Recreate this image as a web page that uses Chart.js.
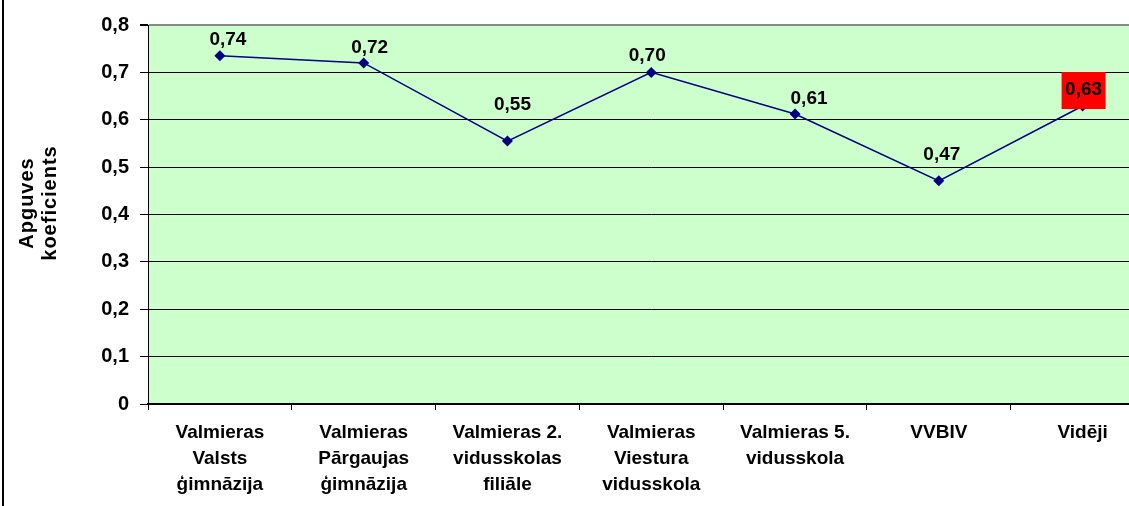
<!DOCTYPE html>
<html>
    <head>
        <meta charset="utf-8">
        <script src="https://cdn.jsdelivr.net/npm/chart.js@4.4.0/dist/chart.umd.min.js"></script>
        <style>
            body { margin: 0; overflow: hidden; background: #fff; }
            #wrap { width: 1160px; height: 506px; }
        </style>
    </head>
    <body>
        <div id="wrap">
            <canvas id="myChart" width="1160" height="506"></canvas>
        </div>

        <script>
            // DATA
            const schools = [
                ['Valmieras', 'Valsts', 'ģimnāzija'],
                ['Valmieras', 'Pārgaujas', 'ģimnāzija'],
                ['Valmieras 2.', 'vidusskolas', 'filiāle'],
                ['Valmieras', 'Viestura', 'vidusskola'],
                ['Valmieras 5.', 'vidusskola'],
                ['VVBIV'],
                ['Vidēji']
            ];
            const coefficients = [0.735, 0.72, 0.555, 0.70, 0.612, 0.471, 0.629];
            const valueLabels = ['0,74', '0,72', '0,55', '0,70', '0,61', '0,47', '0,63'];
            const yTitle = ['Apguves', 'koeficients'];

            // label placement (moved by hand in the original)
            const labelDx = [8, 6, 5, -4, 14, 3, 1];
            const labelDy = [-16, -15, -36, -17, -15, -26, -16];
            const highlighted = 6;

            const FONT = '"Liberation Sans", Arial, sans-serif';

            const background = {
                id: 'background',
                beforeDraw(chart) {
                    const {ctx, chartArea: a} = chart;
                    ctx.save();
                    ctx.fillStyle = '#ccffcc';
                    ctx.fillRect(a.left, a.top, a.right - a.left, a.bottom - a.top);
                    // outer frame
                    ctx.fillStyle = '#000';
                    ctx.fillRect(2, 0, 2, chart.height);
                    ctx.restore();
                }
            };

            const labels = {
                id: 'labels',
                afterDatasetsDraw(chart) {
                    const ctx = chart.ctx;
                    const pts = chart.getDatasetMeta(0).data;
                    ctx.save();
                    ctx.font = 'bold 19px ' + FONT;
                    ctx.textAlign = 'center';
                    ctx.textBaseline = 'middle';
                    pts.forEach((p, i) => {
                        const x = p.x + labelDx[i], y = p.y + labelDy[i];
                        if (i === highlighted) {
                            ctx.fillStyle = '#ff0000';
                            ctx.fillRect(x - 22, y - 18, 44, 37);
                        }
                        ctx.fillStyle = '#000';
                        ctx.fillText(valueLabels[i], x, y);
                    });
                    // axis title
                    ctx.font = 'bold 20px ' + FONT;
                    ctx.letterSpacing = '1px';
                    ctx.translate(38, 203);
                    ctx.rotate(-Math.PI / 2);
                    ctx.fillText(yTitle[0], 0, -11);
                    ctx.fillText(yTitle[1], 0, 12);
                    ctx.restore();
                }
            };

            const config = {
                type: 'line',
                data: {
                    labels: schools,
                    datasets: [{
                        data: coefficients,
                        borderColor: '#000080',
                        backgroundColor: '#000080',
                        borderWidth: 1.5,
                        pointStyle: 'rectRot',
                        pointRadius: 5.5,
                        pointBorderWidth: 0,
                        tension: 0
                    }]
                },
                options: {
                    responsive: false,
                    animation: false,
                    layout: { padding: { top: 25, right: 4, left: 0, bottom: 0 } },
                    plugins: { legend: { display: false }, tooltip: { enabled: false } },
                    scales: {
                        x: {
                            offset: true,
                            afterFit: s => { s.height = 102; },
                            grid: { drawOnChartArea: false, color: '#000', tickLength: 6, offset: true },
                            border: { color: '#000', width: 2 },
                            ticks: {
                                autoSkip: false,
                                maxRotation: 0,
                                padding: 10,
                                color: '#000',
                                font: { family: FONT, size: 19, weight: 'bold', lineHeight: '26px' }
                            }
                        },
                        y: {
                            min: 0,
                            max: 0.8,
                            afterFit: s => { s.width = 148; },
                            grid: {
                                color: ctx => ctx.tick && ctx.tick.value >= 0.8 ? '#888' : '#000',
                                tickColor: '#000',
                                tickLength: 8,
                                lineWidth: c => c.tick && c.tick.value >= 0.8 ? 2 : 1
                            },
                            border: { color: '#000', width: 1 },
                            ticks: {
                                stepSize: 0.1,
                                padding: 11,
                                color: '#000',
                                font: { family: FONT, size: 20, weight: 'bold' },
                                callback: v => v === 0 ? '0' : v.toFixed(1).replace('.', ',')
                            }
                        }
                    }
                },
                plugins: [background, labels]
            };

            const myChart = new Chart(document.getElementById('myChart'), config);
        </script>
    </body>
</html>
